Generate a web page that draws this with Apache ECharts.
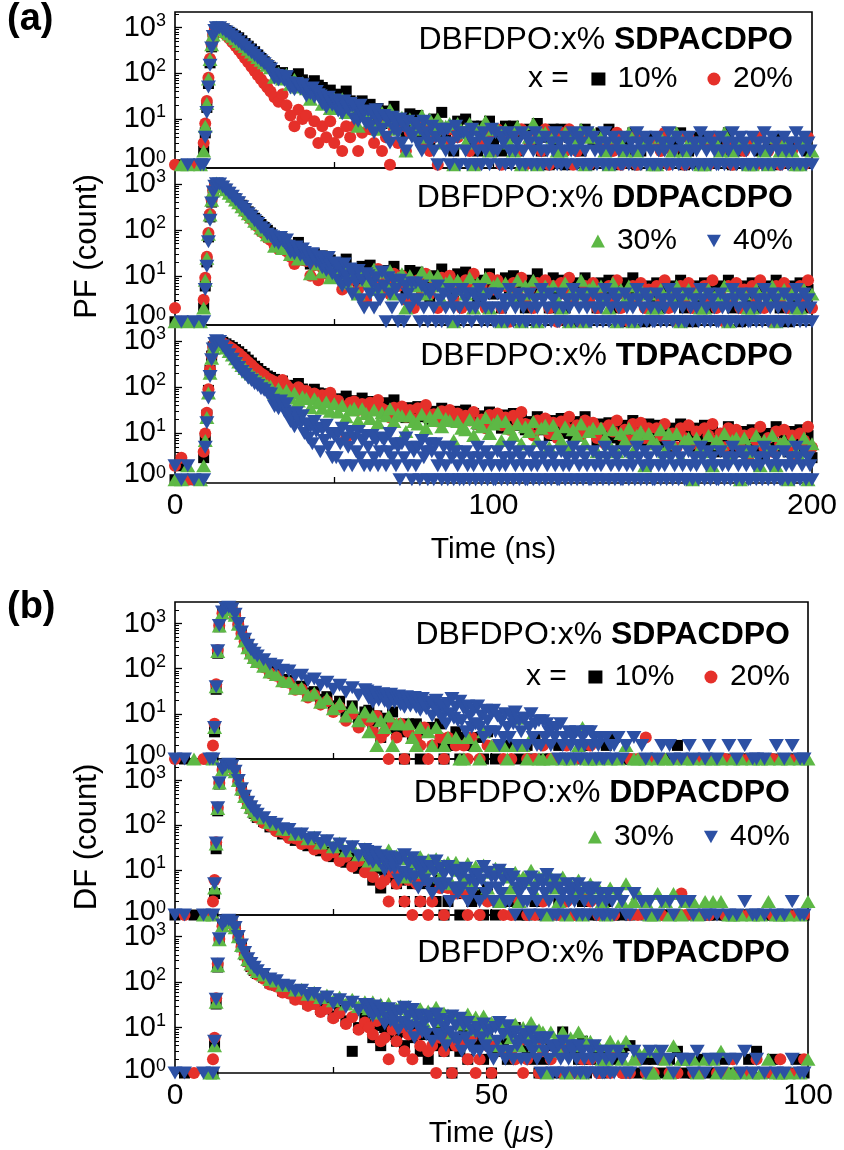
<!DOCTYPE html>
<html>
<head>
<meta charset="utf-8">
<script src="https://cdn.jsdelivr.net/npm/echarts@6/dist/echarts.min.js"></script>
<style>
html, body { margin: 0; padding: 0; background: #ffffff; }
#chart { width: 844px; height: 1150px; }
</style>
</head>
<body>
<div id="chart"></div>
<script>
// ---- time channels ----
const timeNs = [0,2,4,6,8, 9,9.5,10,10.5,11,11.5,12,12.5,13, 14,15,16,17,18,19,20,21,22,23,24,25,26,27,28,29,30,
  31.25,32.5,33.75,35, 36.25,37.5,38.75,40, 41.25,42.5,43.75,45, 46.25,47.5,48.75,50, 51.25,52.5,53.75,55, 56.25,57.5,58.75,60,
  61.25,62.5,63.75,65, 66.25,67.5,68.75,70, 71.25,72.5,73.75,75, 76.25,77.5,78.75,80, 81.25,82.5,83.75,85, 86.25,87.5,88.75,90,
  91.25,92.5,93.75,95, 96.25,97.5,98.75,100, 101.25,102.5,103.75,105, 106.25,107.5,108.75,110, 111.25,112.5,113.75,115,
  116.25,117.5,118.75,120, 121.25,122.5,123.75,125, 126.25,127.5,128.75,130, 131.25,132.5,133.75,135, 136.25,137.5,138.75,140,
  141.25,142.5,143.75,145, 146.25,147.5,148.75,150, 151.25,152.5,153.75,155, 156.25,157.5,158.75,160, 161.25,162.5,163.75,165,
  166.25,167.5,168.75,170, 171.25,172.5,173.75,175, 176.25,177.5,178.75,180, 181.25,182.5,183.75,185, 186.25,187.5,188.75,190,
  191.25,192.5,193.75,195, 196.25,197.5,198.75,200];
// the 40% decays were recorded on a finer channel grid
const timeNsFine = [0,2,4,6,8, 9,9.5,10,10.5,11,11.5,12,12.5,13, 14,15,16,17,18,19,20,21,22,23,24,25,26,27,28,29,30,
  30.625,31.25,31.875,32.5,33.125,33.75,34.375,35, 35.625,36.25,36.875,37.5,38.125,38.75,39.375,40,
  40.625,41.25,41.875,42.5,43.125,43.75,44.375,45, 45.625,46.25,46.875,47.5,48.125,48.75,49.375,50,
  50.625,51.25,51.875,52.5,53.125,53.75,54.375,55, 55.625,56.25,56.875,57.5,58.125,58.75,59.375,60,
  60.625,61.25,61.875,62.5,63.125,63.75,64.375,65, 65.625,66.25,66.875,67.5,68.125,68.75,69.375,70,
  70.625,71.25,71.875,72.5,73.125,73.75,74.375,75, 75.625,76.25,76.875,77.5,78.125,78.75,79.375,80,
  80.625,81.25,81.875,82.5,83.125,83.75,84.375,85, 85.625,86.25,86.875,87.5,88.125,88.75,89.375,90,
  90.625,91.25,91.875,92.5,93.125,93.75,94.375,95, 95.625,96.25,96.875,97.5,98.125,98.75,99.375,100,
  100.625,101.25,101.875,102.5,103.125,103.75,104.375,105, 105.625,106.25,106.875,107.5,108.125,108.75,109.375,110,
  110.625,111.25,111.875,112.5,113.125,113.75,114.375,115, 115.625,116.25,116.875,117.5,118.125,118.75,119.375,120,
  120.625,121.25,121.875,122.5,123.125,123.75,124.375,125, 125.625,126.25,126.875,127.5,128.125,128.75,129.375,130,
  130.625,131.25,131.875,132.5,133.125,133.75,134.375,135, 135.625,136.25,136.875,137.5,138.125,138.75,139.375,140,
  140.625,141.25,141.875,142.5,143.125,143.75,144.375,145, 145.625,146.25,146.875,147.5,148.125,148.75,149.375,150,
  150.625,151.25,151.875,152.5,153.125,153.75,154.375,155, 155.625,156.25,156.875,157.5,158.125,158.75,159.375,160,
  160.625,161.25,161.875,162.5,163.125,163.75,164.375,165, 165.625,166.25,166.875,167.5,168.125,168.75,169.375,170,
  170.625,171.25,171.875,172.5,173.125,173.75,174.375,175, 175.625,176.25,176.875,177.5,178.125,178.75,179.375,180,
  180.625,181.25,181.875,182.5,183.125,183.75,184.375,185, 185.625,186.25,186.875,187.5,188.125,188.75,189.375,190,
  190.625,191.25,191.875,192.5,193.125,193.75,194.375,195, 195.625,196.25,196.875,197.5,198.125,198.75,199.375,200];
const timeUs = [0,1.5,3,4.5,5.5, 6,6.25,6.5,6.75,7, 7.5,8,8.5,9,9.5,10,10.5,11,11.5,12,12.5,13, 14,15,16,17,18,19,20,21,22,23,24,25,26,27,28,29,30,
  30.625,31.25,31.875,32.5, 33.125,33.75,34.375,35, 35.625,36.25,36.875,37.5, 38.125,38.75,39.375,40, 40.625,41.25,41.875,42.5,
  43.125,43.75,44.375,45, 45.625,46.25,46.875,47.5, 48.125,48.75,49.375,50, 50.625,51.25,51.875,52.5, 53.125,53.75,54.375,55,
  55.625,56.25,56.875,57.5, 58.125,58.75,59.375,60, 60.625,61.25,61.875,62.5, 63.125,63.75,64.375,65, 65.625,66.25,66.875,67.5,
  68.125,68.75,69.375,70, 70.625,71.25,71.875,72.5, 73.125,73.75,74.375,75, 75.625,76.25,76.875,77.5, 78.125,78.75,79.375,80,
  80.625,81.25,81.875,82.5, 83.125,83.75,84.375,85, 85.625,86.25,86.875,87.5, 88.125,88.75,89.375,90, 90.625,91.25,91.875,92.5,
  93.125,93.75,94.375,95, 95.625,96.25,96.875,97.5, 98.125,98.75,99.375,100];
const timeUsFine = [0,1.5,3,4.5,5.5, 6,6.25,6.5,6.75,7, 7.5,8,8.5,9,9.5,10,10.5,11,11.5,12,12.5,13, 14,15,16,17,18,19,20,21,22,23,24,25,26,27,28,29,30,
  30.3125,30.625,30.9375,31.25,31.5625,31.875,32.1875,32.5, 32.8125,33.125,33.4375,33.75,34.0625,34.375,34.6875,35,
  35.3125,35.625,35.9375,36.25,36.5625,36.875,37.1875,37.5, 37.8125,38.125,38.4375,38.75,39.0625,39.375,39.6875,40,
  40.3125,40.625,40.9375,41.25,41.5625,41.875,42.1875,42.5, 42.8125,43.125,43.4375,43.75,44.0625,44.375,44.6875,45,
  45.3125,45.625,45.9375,46.25,46.5625,46.875,47.1875,47.5, 47.8125,48.125,48.4375,48.75,49.0625,49.375,49.6875,50,
  50.3125,50.625,50.9375,51.25,51.5625,51.875,52.1875,52.5, 52.8125,53.125,53.4375,53.75,54.0625,54.375,54.6875,55,
  55.3125,55.625,55.9375,56.25,56.5625,56.875,57.1875,57.5, 57.8125,58.125,58.4375,58.75,59.0625,59.375,59.6875,60,
  60.3125,60.625,60.9375,61.25,61.5625,61.875,62.1875,62.5, 62.8125,63.125,63.4375,63.75,64.0625,64.375,64.6875,65,
  65.3125,65.625,65.9375,66.25,66.5625,66.875,67.1875,67.5, 67.8125,68.125,68.4375,68.75,69.0625,69.375,69.6875,70,
  70.625,71.25,71.875,72.5, 73.125,73.75,74.375,75, 75.625,76.25,76.875,77.5, 78.125,78.75,79.375,80,
  80.625,81.25,81.875,82.5, 83.125,83.75,84.375,85, 85.625,86.25,86.875,87.5, 88.125,88.75,89.375,90, 90.625,91.25,91.875,92.5,
  93.125,93.75,94.375,95, 95.625,96.25,96.875,97.5, 98.125,98.75,99.375,100];

// ---- prompt fluorescence counts (PF), DBFDPO:x% SDPACDPO ----
const pfS10 = [0,1,0,0,1, 2,5,18,60,170,380,650,880,990, 1010,940,860,790,720,655,600,515,450,392,340,298,252,212,180,153,136,
  115,88,104,82, 88,77,98,72, 61,48,69,55, 49,32,43,29, 35,28,41,25, 20,13,25,17, 21,10,17,8, 15,11,19,9, 10,5,13,8, 12,5,9,3,
  10,7,14,5, 6,2,9,5, 10,3,7,2, 7,4,9,3, 5,2,7,4, 7,2,5,0, 6,3,8,2, 4,1,6,3, 6,1,4,0, 5,2,6,1, 3,0,5,2, 6,1,4,0, 3,2,5,1,
  2,0,4,1, 4,0,3,0, 3,2,5,1, 2,0,4,1, 4,0,3,0, 3,2,5,1, 2,0,3,1, 3,0,2,0, 3,1,4,0, 2,0,3,1, 3,0,2,0];
const pfS20 = [1,0,0,1,0, 3,8,25,80,210,430,700,900,960, 960,820,690,580,480,395,325,265,215,175,140,113,91,74,60,49,40,
  30,24,35,20, 12,7,16,10, 12,5,9,3, 7,4,9,3, 5,2,7,4, 7,2,5,0, 6,3,8,2, 4,1,6,3, 7,2,5,0, 6,3,8,2, 4,1,6,3, 6,1,4,0,
  5,2,6,1, 3,0,5,2, 6,1,4,0, 5,2,6,1, 3,0,5,2, 6,1,4,0, 5,2,6,1, 2,0,4,1, 4,0,3,0, 3,2,5,1, 2,0,4,1, 4,0,3,0, 3,2,5,1,
  2,0,4,1, 4,0,3,0, 3,1,4,0, 2,0,3,1, 3,0,2,0, 3,1,4,0, 2,0,3,1, 3,0,2,0, 3,1,4,0];
const pfS30 = [0,1,1,0,1, 2,7,22,75,200,420,690,900,1020, 1000,910,815,725,645,570,500,440,385,335,292,255,222,194,170,150,132,
  82,102,75,96, 58,74,50,62, 46,27,45,37, 21,32,17,28, 19,28,14,21, 19,7,18,13, 9,16,6,14, 9,16,6,11, 11,2,10,7, 6,12,4,10,
  6,10,3,7, 8,1,8,5, 3,8,1,6, 5,9,2,6, 6,0,6,3, 2,7,1,5, 4,8,1,5, 5,0,4,2, 2,5,0,4, 3,6,1,4, 5,0,4,2, 1,4,0,3, 2,5,0,2,
  3,0,3,1, 1,4,0,3, 2,5,0,2, 3,0,3,1, 1,4,0,3, 2,5,0,2, 3,0,3,1, 1,3,0,2, 1,4,0,2, 3,0,2,1, 1,3,0,2];
const pfS40 = [0,0,1,0,1, 1,4,14,50,150,360,640,870,1000, 990,900,805,715,630,555,488,425,372,324,282,245,213,186,162,142,125,
  96,78,90,72,88,80,70,84, 62,48,58,44,60,52,46,56, 46,32,42,36,48,30,40,34, 32,22,28,18,30,24,20,26,
  24,15,21,13,25,18,16,22, 19,10,16,9,20,12,14,8, 15,7,13,5,16,9,11,6, 12,4,9,3,11,6,8,5,
  10,3,7,2,9,5,4,8, 8,3,6,2,9,4,5,3, 7,2,4,1,6,3,5,2, 6,1,3,2,7,4,1,5,
  5,2,1,4,6,3,1,2, 4,1,5,2,3,1,6,2, 5,2,1,4,3,1,5,2, 1,4,2,3,1,5,2,1,
  4,3,1,2,5,1,3,2, 1,4,2,1,3,2,5,1, 3,1,2,4,1,3,2,5, 2,1,4,3,1,2,5,1,
  1,4,2,1,3,2,1,5,3,1,2,4,1,3,2,1, 1,4,2,1,3,2,1,5,3,1,2,4,1,3,2,1, 1,4,2,1,3,2,1,5,3,1,2,4,1,3,2,1,
  1,4,2,1,3,2,1,5,3,1,2,4,1,3,2,1, 1,4,2,1,3,2,1,5,3,1,2,4,1,3,2,1, 1,4,2,1,3,2,1,5,3,1,2,4,1,3,2,1,
  1,4,2,1,3,2,1,5,3,1,2,4,1,3,2,1];

// ---- PF, DBFDPO:x% DDPACDPO ----
const pfD10 = [1,0,0,1,0, 2,6,20,70,190,400,670,900,1000, 1000,880,760,650,555,470,400,340,290,245,208,178,152,130,112,97,85,
  72,51,63,46, 46,38,53,34, 26,18,30,22, 27,15,22,12, 18,14,23,12, 12,7,16,10, 17,8,13,6, 13,9,16,7, 10,5,13,8, 12,5,9,3,
  10,7,14,5, 8,4,11,6, 12,5,9,3, 8,5,11,4, 6,2,9,5, 10,3,7,2, 8,5,11,4, 6,2,9,5, 8,2,6,1, 7,4,9,3, 5,2,7,4, 8,2,6,1,
  7,4,9,3, 4,1,6,3, 7,2,5,0, 6,3,8,2, 4,1,6,3, 7,2,5,0, 6,3,8,2, 4,1,6,3, 7,2,5,0, 6,3,8,2, 4,1,6,3, 7,2,5,0];
const pfD20 = [2,1,0,0,1, 3,9,26,85,220,450,720,920,980, 980,840,712,598,498,418,352,288,242,198,168,134,116,92,82,66,60,
  46,38,53,34, 26,18,30,22, 21,10,17,8, 15,11,19,9, 10,5,13,8, 12,5,9,3, 10,7,14,5, 8,4,11,6, 10,3,7,2, 8,5,11,4,
  6,2,9,5, 10,3,7,2, 8,5,11,4, 6,2,9,5, 8,2,6,1, 7,4,9,3, 5,2,7,4, 8,2,6,1, 7,4,9,3, 4,1,6,3, 7,2,5,0, 6,3,8,2,
  4,1,6,3, 7,2,5,0, 6,3,8,2, 4,1,6,3, 7,2,5,0, 6,3,8,2, 4,1,6,3, 7,2,5,0, 6,3,8,2, 4,1,6,3, 7,2,5,0, 6,3,8,2];
const pfD30 = [1,0,1,0,1, 2,8,24,80,210,440,700,920,1040, 1010,858,738,622,534,446,384,316,270,222,190,154,135,109,97,78,72,
  44,59,39,54, 29,40,23,32, 24,11,24,18, 12,20,9,17, 11,18,7,13, 13,4,13,8, 7,14,5,12, 7,13,4,9, 11,2,10,7, 6,12,4,10,
  6,10,3,7, 8,1,8,5, 4,9,2,7, 5,9,2,6, 7,1,7,4, 3,8,1,6, 4,8,1,5, 6,0,6,3, 2,7,1,5, 4,8,1,5, 6,0,6,3, 2,7,1,5,
  3,6,1,4, 5,0,4,2, 2,5,0,4, 3,6,1,4, 5,0,4,2, 2,5,0,4, 3,6,1,4, 5,0,4,2, 2,5,0,4, 3,6,1,4, 5,0,4,2, 2,5,0,4];
const pfD40 = [0,1,0,1,0, 1,5,16,55,160,380,660,880,1000, 990,852,735,620,533,448,385,318,272,224,192,157,137,110,99,80,74,
  70,55,64,50,68,58,52,60, 44,32,40,30,42,36,28,38, 32,22,28,18,30,24,20,26, 24,15,21,13,25,17,11,19,
  16,8,13,6,18,10,7,14, 4,10,7,13,3,8,2,11, 10,4,7,2,9,5,3,12, 6,1,9,4,2,8,5,1,
  8,3,1,6,4,2,7,3, 7,3,1,6,2,5,1,4, 5,2,1,6,3,1,4,2, 1,5,3,2,4,1,2,5,
  1,3,4,2,1,4,2,3, 5,1,3,2,1,4,2,1,
  1,4,2,1,3,2,1,5,3,1,2,4,1,3,2,1, 1,4,2,1,3,2,1,5,3,1,2,4,1,3,2,1, 1,4,2,1,3,2,1,5,3,1,2,4,1,3,2,1,
  1,4,2,1,3,2,1,5,3,1,2,4,1,3,2,1, 1,4,2,1,3,2,1,5,3,1,2,4,1,3,2,1, 1,4,2,1,3,2,1,5,3,1,2,4,1,3,2,1,
  1,4,2,1,3,2,1,5,3,1,2,4,1,3,2,1, 1,4,2,1,3,2,1,5,3,1,2,4,1,3,2,1, 1,4,2,1,3,2,1,5,3,1,2,4,1,3,2,1,
  1,4,2,1,3,2,1,5,3,1,2,4,1,3,2,1];

// ---- PF, DBFDPO:x% TDPACDPO ----
const pfT10 = [1,2,1,0,1, 3,8,25,85,230,470,740,930,1010, 1000,928,862,788,722,648,582,508,447,383,332,283,252,218,198,174,162,
  147,116,135,109, 109,97,120,91, 81,67,90,75, 72,51,63,46, 56,48,64,44, 51,39,58,46, 49,32,43,29, 46,38,53,34, 31,22,36,27,
  38,23,32,20, 30,24,35,20, 26,18,30,22, 32,19,27,16, 24,19,29,16, 20,13,25,17, 27,15,22,12, 18,14,23,12, 15,9,19,13,
  21,10,17,8, 18,14,23,12, 12,7,16,10, 17,8,13,6, 15,11,19,9, 12,7,16,10, 15,6,11,4, 13,9,16,7, 10,5,13,8, 15,6,11,4,
  10,7,14,5, 8,4,11,6, 12,5,9,3, 10,7,14,5, 8,4,11,6, 12,5,9,3];
const pfT20 = [2,3,1,1,0, 4,10,28,90,240,480,740,920,990, 980,898,822,742,672,598,532,460,402,343,300,256,227,196,178,155,145,
  130,117,142,110, 91,76,100,84, 83,60,73,55, 67,58,76,53, 51,39,8,46, 49,32,43,29, 46,38,53,34, 31,22,36,27, 38,23,32,20,
  35,28,41,25, 26,18,30,22, 32,19,27,16, 24,19,29,16, 20,13,25,17, 27,15,22,12, 24,19,29,16, 15,9,19,13, 21,10,17,8,
  18,14,23,12, 15,9,19,13, 17,8,13,6, 15,11,19,9, 12,7,16,10, 17,8,13,6, 13,9,16,7, 10,5,13,8, 15,6,11,4, 13,9,16,7,
  10,5,13,8, 12,5,9,3, 10,7,14,5, 8,4,11,6, 12,5,9,3, 10,7,14,5];
const pfT30 = [1,1,2,0,1, 2,7,22,75,200,420,690,900,980, 950,818,702,588,496,413,350,293,254,216,192,166,152,133,124,109,104,
  73,92,66,85, 58,74,50,62, 57,36,56,46, 35,48,30,44, 29,40,23,32, 35,19,34,27, 21,32,17,28, 24,34,18,26, 24,11,24,18,
  16,26,13,23, 19,28,14,21, 19,7,18,13, 12,20,9,17, 14,22,10,16, 19,7,18,13, 9,16,6,14, 11,18,7,13, 15,5,15,10,
  7,14,5,12, 9,16,6,11, 13,4,13,8, 6,12,4,10, 7,13,4,9, 11,2,10,7, 6,12,4,10, 6,10,3,7, 8,1,8,5, 4,9,2,7, 6,10,3,7,
  8,1,8,5, 4,9,2,7, 5,9,2,6, 7,1,7,4, 3,8,1,6];
const pfT40 = [2,1,2,1,0, 1,5,17,58,170,390,670,880,1000, 970,778,622,498,402,323,267,218,187,156,139,118,108,92,86,74,71,
  52,38,46,34,50,40,30,44, 26,18,22,14,28,20,16,24, 10,16,8,14,6,18,11,13, 4,12,7,15,5,10,3,9,
  3,10,6,13,2,8,5,11, 2,8,4,11,3,7,2,9, 5,2,9,3,7,2,4,8, 7,2,4,10,3,6,2,5,
  1,6,3,8,2,5,1,4, 2,5,1,7,3,4,1,6, 4,1,6,2,3,1,5,2, 1,5,3,1,4,2,1,3,
  1,4,2,1,3,2,1,5,3,1,2,4,1,3,2,1, 1,4,2,1,3,2,1,5,3,1,2,4,1,3,2,1, 1,4,2,1,3,2,1,5,3,1,2,4,1,3,2,1,
  1,4,2,1,3,2,1,5,3,1,2,4,1,3,2,1, 1,4,2,1,3,2,1,5,3,1,2,4,1,3,2,1, 1,4,2,1,3,2,1,5,3,1,2,4,1,3,2,1,
  1,4,2,1,3,2,1,5,3,1,2,4,1,3,2,1, 1,4,2,1,3,2,1,5,3,1,2,4,1,3,2,1, 1,4,2,1,3,2,1,5,3,1,2,4,1,3,2,1,
  1,4,2,1,3,2,1,5,3,1,2,4,1,3,2,1, 1,4,2,1,3,2,1,5,3,1,2,4,1,3,2,1];

// ---- delayed fluorescence counts (DF), DBFDPO:x% SDPACDPO ----
const dfS10 = [0,1,0,0,1, 1,4,35,220,850, 1750,2150,2250,2050,1550,980,620,420,300,230,182,150,
  117,88,78,58,55,40,41,29,31,21,24,15,19,11,15,8,11,
  12,5,9,3, 8,5,11,4, 4,1,6,3, 6,1,4,0, 5,2,6,1, 2,0,4,1, 3,0,2,0, 3,1,4,0, 1,0,2,0, 2,0,1,0, 2,1,3,0, 1,0,1,0, 2,0,1,0, 1,0,2,0,
  1,0,1,0, 2,0,3,0, 1,0,1,0, 0,0,1,0, 1,0,1,0, 1,0,2,0, 0,0,1,0, 1,0,1,0, 1,0,1,0, 0,0,1,0, 1,0,1,0, 1,0,1,0, 0,0,1,0, 1,0,1,0];
const dfS20 = [1,0,0,1,0, 2,6,45,260,900, 1700,2100,2200,2000,1500,950,600,400,285,215,170,138,
  108,79,70,51,49,34,35,23,26,16,19,11,14,7,10,5,8,
  7,4,9,3, 4,1,6,3, 6,1,4,0, 3,2,5,1, 2,0,3,1, 3,0,2,0, 2,1,3,0, 1,0,2,0, 2,0,1,0, 1,0,2,0, 1,0,1,0, 2,0,1,0, 1,0,2,0, 1,0,1,0,
  2,0,1,0, 1,0,1,0, 0,0,1,0, 1,0,3,0, 1,0,1,0, 0,0,1,0, 1,0,1,0, 1,0,1,0, 0,0,1,0, 1,0,1,0, 1,0,1,0, 0,0,1,0, 1,0,1,0, 1,0,1,0];
const dfS30 = [0,0,1,0,0, 1,5,40,240,880, 1720,2120,2230,2030,1530,960,610,410,292,222,176,144,
  113,84,74,54,52,37,38,26,29,18,22,13,17,9,14,7,11,
  4,9,2,7, 5,9,2,6, 6,0,6,3, 2,5,0,4, 2,5,0,2, 3,0,3,1, 1,3,0,2, 1,4,0,2, 2,0,2,1, 0,2,8,2, 1,3,0,1, 1,0,1,0, 0,1,0,1, 0,2,5,1,
  1,0,1,0, 0,1,0,1, 0,2,0,1, 1,0,1,0, 0,1,0,1, 0,1,0,0, 1,0,1,0, 0,1,0,1, 0,1,0,0, 1,0,1,0, 0,1,0,1, 0,1,0,0, 1,0,1,0, 0,1,0,1];
const dfS40 = [1,1,0,0,1, 1,5,40,250,900, 1800,2200,2300,2100,1600,1000,650,450,330,262,220,190,
  158,126,116,92,89,70,72,54,59,43,50,35,43,30,38,26,34,
  32,22,28,18,30,24,20,26, 28,19,25,16,27,21,18,23, 25,16,22,14,24,18,15,20, 23,14,20,12,22,16,13,18,
  18,9,14,20,11,16,8,13, 6,17,10,22,8,14,7,19, 7,13,4,15,9,5,12,6, 15,5,9,3,12,7,4,10,
  12,4,9,2,7,3,10,5, 3,9,6,11,2,7,4,8, 8,2,5,10,3,6,2,7, 2,7,3,6,4,2,5,3,
  5,1,6,2,3,1,4,2, 3,1,4,2,1,3,2,4, 1,4,2,3,1,2,3,1, 1,3,0,2,1,2,0,3,
  1,2,0,3, 0,2,1,0, 0,1,2,0, 2,1,0,1, 0,2,1,0, 0,1,2,0, 1,0,0,2, 0,1,0,2, 0,1,1,0, 1,0,0,2, 0,1,0,2, 0,1,1,0];

// ---- DF, DBFDPO:x% DDPACDPO ----
const dfD10 = [1,0,1,0,0, 1,3,30,210,830, 1740,2140,2240,2040,1540,970,610,420,305,235,185,150,
  121,92,83,64,61,46,47,35,37,27,30,20,25,15,20,11,16,
  15,6,11,4, 10,7,14,5, 6,2,9,5, 7,2,5,0, 5,2,6,1, 2,0,4,1, 3,0,2,0, 3,1,4,0, 1,0,2,0, 2,0,1,0, 1,0,2,0, 1,0,1,0, 2,0,1,0, 1,0,2,0,
  1,0,1,0, 2,0,1,0, 1,0,1,0, 0,0,1,0, 1,0,1,0, 1,0,1,0, 0,0,1,0, 1,0,1,0, 1,0,1,0, 0,0,1,0, 1,0,1,0, 1,0,1,0, 0,0,1,0, 1,0,1,0];
const dfD20 = [0,1,0,0,1, 2,6,42,250,880, 1700,2100,2200,2010,1510,950,600,405,300,230,182,148,
  112,96,74,69,52,51,38,40,29,31,21,25,16,20,12,16,9,
  10,7,14,5, 6,2,9,5, 8,2,6,1, 5,2,6,1, 2,0,4,1, 4,0,3,0, 3,1,4,0, 1,0,2,0, 2,0,1,0, 1,0,2,0, 1,0,1,0, 2,0,1,0, 1,0,2,0, 1,0,1,3,
  2,0,1,0, 1,0,1,0, 0,0,1,0, 1,0,1,0, 1,0,1,0, 0,0,1,3, 1,0,1,0, 1,0,1,0, 0,0,1,0, 1,0,1,0, 1,0,1,0, 0,0,1,0, 1,0,1,0, 1,0,1,0];
const dfD30 = [0,0,0,1,0, 1,4,38,235,870, 1730,2130,2250,2050,1560,990,640,440,320,252,205,172,
  145,115,105,83,81,63,65,50,55,40,46,33,40,27,34,22,30,
  16,26,13,23, 19,28,14,21, 19,7,18,13, 12,20,9,17, 11,18,7,13, 15,5,15,10, 7,14,5,12, 7,13,4,9, 11,2,10,7, 4,9,2,7,
  6,10,3,7, 7,1,7,4, 2,7,1,5, 3,6,1,4, 5,0,4,2, 1,4,0,3, 2,5,0,2, 3,0,2,1, 1,3,0,2, 1,3,0,1, 2,0,2,1, 0,2,0,2,
  0,2,0,1, 1,0,1,0, 0,1,0,1, 0,2,0,1, 1,0,1,0, 0,1,0,2];
const dfD40 = [1,1,0,1,0, 1,5,40,245,890, 1790,2190,2290,2090,1590,1000,650,445,325,258,210,175,
  148,116,106,84,81,63,64,49,53,39,45,31,38,26,33,21,29,
  26,17,23,15,25,19,16,21, 18,10,14,20,12,16,11,19, 6,17,9,22,8,14,7,19, 7,13,4,15,9,6,12,5,
  12,3,9,16,5,11,4,8, 5,12,2,9,4,10,3,7, 4,9,11,2,6,3,8,5, 8,2,6,12,3,9,4,7,
  2,7,4,10,3,6,2,8, 2,6,7,1,4,3,5,2, 5,2,1,7,3,4,2,6, 1,5,3,8,2,4,1,6,
  1,4,2,3,1,5,2,3, 4,2,1,5,3,1,2,4, 1,3,2,4,1,2,3,1, 1,2,3,1,2,1,0,3,
  2,1,1,3, 0,2,1,2, 0,1,2,0, 2,1,0,2, 0,2,1,0, 0,1,1,0, 1,0,0,1, 0,1,0,2, 0,1,1,0, 1,0,0,1, 0,1,0,2, 0,1,1,0];

// ---- DF, DBFDPO:x% TDPACDPO ----
const dfT10 = [0,1,0,0,1, 1,4,33,215,840, 1720,2130,2230,2030,1530,960,600,400,290,220,180,155,
  128,96,86,64,61,45,47,33,37,25,30,18,24,14,3,10,16,
  15,6,11,4, 10,7,14,5, 8,4,11,6, 10,3,7,2, 7,4,9,3, 4,1,6,3, 7,2,5,0, 5,2,6,1, 3,0,5,2, 6,10,4,0, 3,2,5,1, 2,0,4,1,
  4,8,3,0, 3,2,5,1, 2,0,3,1, 3,0,2,0, 3,1,4,0, 1,0,2,0, 2,0,1,0, 2,1,3,0, 1,0,1,0, 2,0,1,0, 1,0,2,0, 1,0,1,0,
  2,0,3,0, 1,0,2,0, 1,0,1,0, 2,0,1,0];
const dfT20 = [0,0,1,0,0, 2,6,44,255,890, 1700,2110,2210,2010,1510,950,590,395,282,212,172,146,
  119,89,80,59,56,41,42,30,33,22,26,16,21,12,17,9,13,
  10,7,14,5, 6,2,9,5, 10,3,7,2, 7,4,9,3, 4,1,6,3, 6,1,4,0, 5,2,6,1, 2,0,4,1, 4,0,3,0, 3,2,5,1, 2,8,4,1, 3,0,2,0,
  3,1,4,0, 1,0,2,0, 2,0,1,0, 2,1,3,0, 1,0,1,0, 2,0,1,0, 1,0,2,0, 1,0,1,0, 2,0,1,0, 1,0,2,0, 1,0,1,0, 2,0,1,0,
  1,0,2,0, 1,0,1,0, 2,0,1,0, 1,0,2,0];
const dfT30 = [0,0,0,0,1, 1,4,36,230,860, 1740,2150,2260,2060,1570,1000,640,440,315,250,205,172,
  143,114,106,85,85,67,70,54,60,46,52,39,47,33,42,29,37,
  26,37,21,33, 24,34,18,26, 30,15,29,22, 16,26,13,23, 19,28,14,21, 19,7,18,13, 12,20,9,17, 11,18,7,13, 13,4,13,8,
  6,12,4,10, 7,13,4,9, 8,1,8,5, 3,8,1,6, 4,8,1,5, 5,0,4,2, 2,5,0,4, 2,5,0,2, 3,0,3,1, 1,3,0,2, 1,4,0,2, 2,0,2,1,
  0,2,0,2, 1,3,0,1, 1,0,1,0, 0,1,0,1, 0,2,0,1, 1,0,1,0, 0,1,0,2];
const dfT40 = [1,1,0,1,0, 1,5,42,250,900, 1800,2200,2300,2100,1600,1010,655,450,328,258,212,178,
  148,117,107,85,82,64,66,51,56,41,47,34,41,28,36,24,32,
  32,22,28,18,30,24,20,26, 24,12,16,26,14,20,13,22, 9,23,13,28,11,18,10,25, 6,16,10,19,8,13,7,17,
  18,5,12,20,7,15,6,10, 4,14,8,18,6,11,5,16, 3,11,6,13,4,9,3,8, 10,3,6,12,4,8,3,9,
  2,10,5,13,3,7,2,11, 3,7,2,8,4,5,2,6, 7,2,4,8,3,5,2,6, 1,5,3,6,2,4,1,3,
  1,4,2,5,1,3,2,4, 3,1,2,4,1,3,2,1, 1,3,2,4,1,2,3,1, 1,2,3,1,2,1,0,3,
  2,1,1,3, 0,2,1,3, 0,2,3,0, 2,1,0,2, 0,2,1,3, 0,1,2,0, 2,1,0,2, 0,2,1,3, 0,1,2,0, 1,0,0,1, 0,1,0,2, 0,1,1,0];

// ---- labels ----
const seriesNames = ['10%', '20%', '30%', '40%'];
const hostNames = ['SDPACDPO', 'DDPACDPO', 'TDPACDPO'];
const yMajorTicks = [1, 10, 100, 1000];
const yMinorTicks = [2,3,4,5,6,7,8,9,20,30,40,50,60,70,80,90,200,300,400,500,600,700,800,900,2000];
const xLabelsNs = [0, 100, 200];
const xLabelsUs = [0, 50, 100];

// ---- styling ----
const FONT = '"Liberation Sans", Arial, Helvetica, sans-serif';
const COLORS = ['#000000', '#e5302a', '#5db845', '#2c50a4'];
const SYMBOLS = ['rect', 'circle', 'triangle', 'path://M0,0L10,0L5,9Z'];
const SIZES = [11, 12, [15, 13], [15, 13]];

const panels = [
  { left: 175, top: 12,  width: 637, height: 156, t: timeNs, tFine: timeNsFine, xMax: 200, xTick: 50, yMin: 0.85, yMax: 2200, sets: [pfS10, pfS20, pfS30, pfS40], group: 'a' },
  { left: 175, top: 168, width: 637, height: 157, t: timeNs, tFine: timeNsFine, xMax: 200, xTick: 50, yMin: 0.85, yMax: 2200, sets: [pfD10, pfD20, pfD30, pfD40], group: 'a', yName: 'PF (count)' },
  { left: 175, top: 325, width: 637, height: 158, t: timeNs, tFine: timeNsFine, xMax: 200, xTick: 50, yMin: 0.85, yMax: 2200, sets: [pfT10, pfT20, pfT30, pfT40], group: 'a', xLabels: xLabelsNs, xName: 'Time (ns)', xGap: 52 },
  { left: 175, top: 602, width: 633, height: 157, t: timeUs, tFine: timeUsFine, xMax: 100, xTick: 25, yMin: 1, yMax: 3000, sets: [dfS10, dfS20, dfS30, dfS40], group: 'b' },
  { left: 175, top: 759, width: 633, height: 156, t: timeUs, tFine: timeUsFine, xMax: 100, xTick: 25, yMin: 1, yMax: 3000, sets: [dfD10, dfD20, dfD30, dfD40], group: 'b', yName: 'DF (count)' },
  { left: 175, top: 915, width: 633, height: 158, t: timeUs, tFine: timeUsFine, xMax: 100, xTick: 25, yMin: 1, yMax: 3000, sets: [dfT10, dfT20, dfT30, dfT40], group: 'b', xLabels: xLabelsUs, xName: 'Time ({i|μ}s)', xGap: 46 }
];

// zero-count channels cannot sit on a log axis, so they are left out
function toPoints(t, counts) {
  const pts = [];
  const n = Math.min(t.length, counts.length);
  for (let i = 0; i < n; i++) {
    if (counts[i] > 0) pts.push([t[i], counts[i]]);
  }
  return pts;
}

function powerLabel(v) {
  const e = Math.round(Math.log10(v));
  return e === 0 ? '{b0|10}{s|0}' : '{b|10}{s|' + e + '}';
}

function powerRich(lift) {
  return {
    b:  { fontSize: 29, fontFamily: FONT, color: '#000', lineHeight: 32 },
    b0: { fontSize: 29, fontFamily: FONT, color: '#000', lineHeight: 32, padding: [0, 0, lift, 0] },
    s:  { fontSize: 18, fontFamily: FONT, color: '#000', lineHeight: 18, verticalAlign: 'top' }
  };
}

const grids = [], xAxes = [], yAxes = [], series = [];

panels.forEach(function (p, i) {
  grids.push({
    left: p.left, top: p.top, width: p.width, height: p.height,
    show: true, borderColor: '#000', borderWidth: 1.6, backgroundColor: 'transparent',
    outerBoundsMode: 'none'
  });

  const x = {
    gridIndex: i, type: 'value', min: 0, max: p.xMax, interval: p.xTick,
    axisLine: { show: false }, splitLine: { show: false },
    axisTick: { show: true, inside: true, length: 6, lineStyle: { color: '#000', width: 1.3 } },
    axisLabel: { show: false }
  };
  if (p.xLabels) {
    x.axisLabel = { show: true, customValues: p.xLabels, fontSize: 30, fontFamily: FONT, color: '#000', margin: 8 };
    x.name = p.xName;
    x.nameLocation = 'middle';
    x.nameGap = p.xGap;
    x.nameTextStyle = { fontSize: 30, fontFamily: FONT, color: '#000',
      rich: { i: { fontSize: 30, fontFamily: FONT, fontStyle: 'italic', color: '#000' } } };
  }
  xAxes.push(x);

  const lift = p.group === 'a' ? 12 : 6;
  const yMajor = {
    gridIndex: i, type: 'log', logBase: 10, min: p.yMin, max: p.yMax, position: 'left',
    axisLine: { show: false }, splitLine: { show: false },
    axisTick: { show: true, inside: true, length: 7, customValues: yMajorTicks, lineStyle: { color: '#000', width: 1.3 } },
    axisLabel: { show: true, customValues: yMajorTicks, margin: 9, formatter: powerLabel, rich: powerRich(lift) }
  };
  if (p.yName) {
    yMajor.name = p.yName;
    yMajor.nameLocation = 'middle';
    yMajor.nameGap = 72;
    yMajor.nameTextStyle = { fontSize: 31, fontFamily: FONT, color: '#000' };
  }
  yAxes.push(yMajor);
  yAxes.push({
    gridIndex: i, type: 'log', logBase: 10, min: p.yMin, max: p.yMax, position: 'left',
    axisLine: { show: false }, splitLine: { show: false },
    axisTick: { show: true, inside: true, length: 4, customValues: yMinorTicks, lineStyle: { color: '#000', width: 1 } },
    axisLabel: { show: false }
  });

  p.sets.forEach(function (counts, k) {
    series.push({
      type: 'scatter', name: seriesNames[k], xAxisIndex: i, yAxisIndex: 2 * i,
      symbol: SYMBOLS[k], symbolSize: SIZES[k],
      itemStyle: { color: COLORS[k], opacity: 1 },
      data: toPoints(k === 3 ? p.tFine : p.t, counts), silent: true
    });
  });
});

const legendBase = {
  orient: 'horizontal', selectedMode: false, padding: 0,
  itemWidth: 14, itemHeight: 13, itemGap: 30,
  textStyle: { fontSize: 30, fontFamily: FONT, color: '#000', padding: [0, 0, 0, 7] }
};
const legends = [
  Object.assign({}, legendBase, { data: ['10%', '20%'], right: 51, top: 64 }),
  Object.assign({}, legendBase, { data: ['30%', '40%'], right: 51, top: 226 }),
  Object.assign({}, legendBase, { data: ['10%', '20%'], right: 54, top: 662 }),
  Object.assign({}, legendBase, { data: ['30%', '40%'], right: 54, top: 822 })
];

const titleRich = { h: { fontSize: 32, fontFamily: FONT, fontWeight: 'bold', fill: '#000' } };
function hostText(host, right, top) {
  return { type: 'text', right: right, top: top, silent: true,
    style: { text: 'DBFDPO:x% {h|' + hostNames[host] + '}', fontSize: 32, fontFamily: FONT, fill: '#000', rich: titleRich } };
}

const graphics = [
  { type: 'text', left: 7, top: 1, silent: true, style: { text: '(a)', fontSize: 38, fontWeight: 'bold', fontFamily: FONT, fill: '#000' } },
  { type: 'text', left: 7, top: 589, silent: true, style: { text: '(b)', fontSize: 38, fontWeight: 'bold', fontFamily: FONT, fill: '#000' } },
  hostText(0, 51, 24), hostText(1, 51, 182), hostText(2, 51, 340),
  hostText(0, 54, 619), hostText(1, 54, 777), hostText(2, 54, 937),
  { type: 'text', left: 528, top: 64, silent: true, style: { text: 'x =', fontSize: 30, fontFamily: FONT, fill: '#000' } },
  { type: 'text', left: 526, top: 662, silent: true, style: { text: 'x =', fontSize: 30, fontFamily: FONT, fill: '#000' } }
];

const chart = echarts.init(document.getElementById('chart'), null, { renderer: 'canvas' });
chart.setOption({
  animation: false,
  backgroundColor: '#ffffff',
  grid: grids,
  xAxis: xAxes,
  yAxis: yAxes,
  legend: legends,
  graphic: graphics,
  series: series
});
</script>
</body>
</html>
